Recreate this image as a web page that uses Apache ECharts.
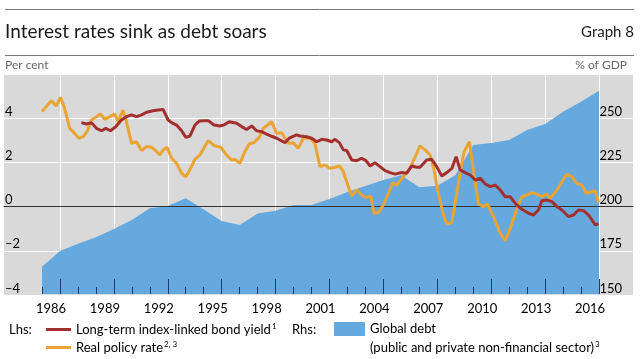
<!DOCTYPE html>
<html><head><meta charset="utf-8">
<script src="https://cdn.jsdelivr.net/npm/echarts@6/dist/echarts.min.js"></script>
<style>html,body{margin:0;padding:0;background:#fff}#c{width:640px;height:359px}</style>
</head><body><div id="c"></div>
<script>
// ---- data ----
const yearLabels = ['1986','1987','1988','1989','1990','1991','1992','1993','1994','1995','1996','1997','1998','1999','2000','2001','2002','2003','2004','2005','2006','2007','2008','2009','2010','2011','2012','2013','2014','2015','2016'];
const yearBounds = ['1986','1987','1988','1989','1990','1991','1992','1993','1994','1995','1996','1997','1998','1999','2000','2001','2002','2003','2004','2005','2006','2007','2008','2009','2010','2011','2012','2013','2014','2015','2016','2017'];
const leftTicks = [-4, -2, 0, 2, 4, 6];
const rightTicks = [150, 175, 200, 225, 250, 275];

const debtYears = [1986,1987,1988,1989,1990,1991,1992,1993,1994,1995,1996,1997,1998,1999,2000,2001,2002,2003,2004,2005,2006,2007,2008,2009,2010,2011,2012,2013,2014,2015,2016,2017];
const debtRatio = [165.5,174.4,178.5,182.2,187,192,198.7,200,204.4,198,191.5,189.2,195.8,197.3,200.6,200.5,204,208,211.4,214.8,217.5,210.6,211.5,217.5,234.7,235.8,237.5,243.2,246.6,253.6,259.3,265.5];

const policyYears = [1986.0,1986.52,1986.8,1987.03,1987.26,1987.54,1987.73,1988.06,1988.28,1988.51,1988.75,1989.03,1989.25,1989.49,1989.77,1990.05,1990.23,1990.51,1990.7,1990.98,1991.26,1991.54,1991.82,1992.09,1992.28,1992.56,1992.74,1992.96,1993.21,1993.49,1993.77,1994.01,1994.23,1994.51,1994.79,1995.06,1995.25,1995.57,1995.96,1996.27,1996.55,1996.74,1997.01,1997.29,1997.53,1997.79,1998.09,1998.31,1998.78,1999.06,1999.34,1999.7,1999.98,2000.26,2000.54,2000.91,2001.19,2001.47,2001.75,2002.03,2002.31,2002.55,2002.77,2003.05,2003.24,2003.5,2003.79,2004.07,2004.3,2004.48,2004.72,2005.0,2005.28,2005.52,2005.74,2006.11,2006.48,2007.04,2007.32,2007.6,2007.82,2008.06,2008.34,2008.53,2008.81,2008.99,2009.27,2009.49,2009.79,2010.01,2010.29,2010.57,2010.79,2011.13,2011.5,2011.78,2012.06,2012.43,2012.71,2012.99,2013.26,2013.5,2013.82,2014.06,2014.28,2014.66,2014.94,2015.21,2015.49,2015.77,2016.05,2016.29,2016.61,2016.79,2016.98];
const policyRate = [4.29,4.79,4.55,4.94,4.44,3.53,3.38,3.08,3.15,3.38,3.91,4.06,4.18,3.94,4.06,4.18,3.83,4.36,3.83,2.85,2.92,2.52,2.7,2.67,2.55,2.32,2.55,2.67,2.17,1.94,1.49,1.33,1.64,2.12,2.32,2.7,2.97,2.75,2.66,2.32,2.09,2.12,1.94,2.47,2.82,2.88,3.12,3.53,3.83,3.3,3.33,2.85,2.88,2.62,3.08,3.08,2.85,1.79,1.86,1.71,1.76,1.82,1.56,0.88,0.46,0.73,0.5,0.38,0.45,-0.33,-0.3,0.05,0.58,1.06,0.95,1.33,1.71,2.73,2.55,2.32,1.64,0.58,-0.41,-0.82,-0.74,0.12,1.49,2.47,2.92,1.64,0.09,-0.03,0.09,-0.48,-1.24,-1.58,-1.02,-0.11,0.42,0.5,0.61,0.55,0.42,0.55,0.35,0.73,1.1,1.45,1.33,1.03,0.95,0.58,0.65,0.7,0.15];

const bondYears = [1988.19,1988.47,1988.75,1989.03,1989.31,1989.55,1989.81,1990.11,1990.42,1990.7,1990.98,1991.26,1991.54,1991.82,1992.18,1992.46,1992.74,1993.02,1993.21,1993.49,1993.77,1994.01,1994.23,1994.51,1994.75,1994.97,1995.25,1995.57,1995.9,1996.12,1996.42,1996.83,1997.11,1997.39,1997.67,1997.94,1998.22,1998.5,1998.78,1999.06,1999.52,1999.76,2000.17,2000.36,2000.73,2001.01,2001.29,2001.57,2001.84,2002.12,2002.31,2002.55,2002.77,2002.96,2003.24,2003.52,2003.79,2004.03,2004.26,2004.53,2004.81,2005.09,2005.37,2005.65,2006.02,2006.3,2006.58,2006.86,2007.04,2007.41,2007.69,2007.97,2008.25,2008.53,2008.81,2009.05,2009.27,2009.55,2009.83,2010.11,2010.39,2010.67,2010.95,2011.23,2011.5,2011.78,2012.06,2012.34,2012.71,2013.08,2013.35,2013.63,2013.82,2014.1,2014.38,2014.66,2014.94,2015.3,2015.58,2015.86,2016.14,2016.42,2016.79,2016.98];
const bondYield = [3.79,3.73,3.79,3.53,3.42,3.53,3.42,3.61,3.91,4.06,4.14,4.06,4.14,4.26,4.33,4.36,4.39,3.91,3.79,3.68,3.42,3.12,3.18,3.68,3.86,3.88,3.88,3.68,3.64,3.68,3.83,3.76,3.61,3.48,3.64,3.42,3.38,3.27,3.17,3.08,2.88,3.08,3.23,3.18,3.15,3.08,2.92,3.03,3.0,2.92,3.03,2.88,2.55,2.52,2.09,2.06,2.17,2.06,1.82,1.97,1.79,1.61,1.52,1.45,1.52,1.49,1.82,1.76,1.76,2.09,2.12,1.79,1.36,1.52,1.71,2.24,1.64,1.52,1.41,1.18,1.26,1.0,0.88,0.95,0.73,0.42,0.42,0.12,-0.15,-0.33,-0.41,-0.18,0.24,0.27,0.2,-0.03,-0.18,-0.48,-0.41,-0.18,-0.21,-0.41,-0.86,-0.8];

// ---- chart ----
const FONT = 'Lato';
const zip = (xs, ys) => xs.map((x, i) => [x, ys[i]]);
const longTick = (i) => (i - 1) % 3 === 0;
const NAME_BOND = 'Long-term index-linked bond yield';
const NAME_POLICY = 'Real policy rate';
const NAME_DEBT = 'Global debt';
const rich = {
  t: {fontSize: 13, lineHeight: 15, color: '#000', fontFamily: FONT},
  s: {fontSize: 8, lineHeight: 8, verticalAlign: 'top', color: '#000', fontFamily: FONT, padding: [0, 0, 0, 1]}
};
const legendText = {fontSize: 13, color: '#000', fontFamily: FONT, rich: rich};
const chart = echarts.init(document.getElementById('c'), null, {renderer: 'canvas'});
const catAxisBase = {gridIndex: 0, type: 'category', position: 'bottom', offset: 0,
  axisLine: {show: false}, axisLabel: {show: false}, axisTick: {show: false}, splitLine: {show: false}};
chart.setOption({
  animation: false,
  textStyle: {fontFamily: FONT},
  grid: [
    {left: 42, right: 41, top: 74, bottom: 65, show: false},
    {left: 4, right: 7, top: 74, bottom: 64, show: true, backgroundColor: '#d9d9d9', borderWidth: 0, z: 0}
  ],
  xAxis: [
    {gridIndex: 0, type: 'value', min: 1986, max: 2017, show: false},
    Object.assign({}, catAxisBase, {data: yearLabels, boundaryGap: true,
      axisLabel: {show: true, interval: 2, margin: 8, color: '#000', fontSize: 13, fontFamily: FONT}}),
    Object.assign({}, catAxisBase, {data: yearBounds, boundaryGap: false, z: 6,
      axisTick: {show: true, inside: true, length: 7, interval: 0, lineStyle: {color: '#1d3c6e', width: 1}}}),
    Object.assign({}, catAxisBase, {data: yearBounds, boundaryGap: false, z: 6,
      axisTick: {show: true, inside: true, length: 15, interval: longTick, lineStyle: {color: '#1d3c6e', width: 1}}}),
    Object.assign({}, catAxisBase, {data: yearBounds, boundaryGap: false, z: 1,
      splitLine: {show: true, interval: longTick, lineStyle: {color: '#ffffff', width: 1}}}),
    {gridIndex: 1, type: 'value', min: 0, max: 1, z: 3,
      axisLine: {show: true, onZero: true, lineStyle: {color: '#333', width: 1}},
      axisTick: {show: false}, axisLabel: {show: false}, splitLine: {show: false}}
  ],
  yAxis: [
    {gridIndex: 0, type: 'value', min: leftTicks[0], max: leftTicks[leftTicks.length - 1], interval: 2, show: false},
    {gridIndex: 0, type: 'value', min: rightTicks[0], max: rightTicks[rightTicks.length - 1], interval: 25, show: false},
    {gridIndex: 1, type: 'value', position: 'left', min: leftTicks[0], max: leftTicks[leftTicks.length - 1], interval: 2, z: 1,
      axisLine: {show: false}, axisTick: {show: false},
      splitLine: {show: true, lineStyle: {color: '#ffffff', width: 1}},
      axisLabel: {inside: true, margin: 1, showMaxLabel: false, showMinLabel: true, verticalAlign: 'bottom', color: '#000', fontSize: 13, fontFamily: FONT,
        formatter: v => String(v).replace('-', '\u2013')}},
    {gridIndex: 1, type: 'value', position: 'right', min: rightTicks[0], max: rightTicks[rightTicks.length - 1], interval: 25, z: 1,
      axisLine: {show: false}, axisTick: {show: false}, splitLine: {show: false},
      axisLabel: {inside: true, margin: 11, showMaxLabel: false, verticalAlign: 'bottom', color: '#000', fontSize: 13, fontFamily: FONT}}
  ],
  legend: [
    {left: 46, top: 322, itemWidth: 25, itemHeight: 3, icon: 'rect', padding: 0,
      data: [NAME_BOND], selectedMode: false, textStyle: legendText,
      formatter: n => '{t|' + n + '}{s|1}'},
    {left: 46, top: 340, itemWidth: 25, itemHeight: 3, icon: 'rect', padding: 0,
      data: [NAME_POLICY], selectedMode: false, textStyle: legendText,
      formatter: n => '{t|' + n + '}{s|2, 3}'},
    {left: 334, top: 322, itemWidth: 31, itemHeight: 14, icon: 'rect', padding: 0,
      data: [NAME_DEBT], selectedMode: false, textStyle: legendText,
      formatter: n => '{t|' + n + '}'}
  ],
  graphic: [
    {type: 'line', shape: {x1: 5, y1: 9.5, x2: 634, y2: 9.5}, style: {stroke: '#777', lineWidth: 1}, silent: true},
    {type: 'line', shape: {x1: 5, y1: 55.5, x2: 634, y2: 55.5}, style: {stroke: '#777', lineWidth: 1}, silent: true},
    {type: 'text', left: 5, top: 22, style: {text: 'Interest rates sink as debt soars', fontSize: 19, fontFamily: FONT, fill: '#1a1a1a'}},
    {type: 'text', right: 6, top: 25, style: {text: 'Graph 8', fontSize: 15, fontFamily: FONT, fill: '#1a1a1a'}},
    {type: 'text', left: 5, top: 59, style: {text: 'Per cent', fontSize: 12, fontFamily: FONT, fill: '#666'}},
    {type: 'text', right: 13, top: 59, style: {text: '% of GDP', fontSize: 12, fontFamily: FONT, fill: '#666'}},
    {type: 'text', left: 9, top: 323, style: {text: 'Lhs:', fontSize: 13, fontFamily: FONT, fill: '#000'}},
    {type: 'text', left: 292, top: 323, style: {text: 'Rhs:', fontSize: 13, fontFamily: FONT, fill: '#000'}},
    {type: 'text', left: 370, top: 340, style: {text: '{t|(public and private non-financial sector)}{s|3}', rich: rich, fontFamily: FONT}}
  ],
  series: [
    {name: NAME_DEBT, type: 'line', xAxisIndex: 0, yAxisIndex: 1, data: zip(debtYears, debtRatio), z: 2,
      symbol: 'none', color: '#66a9df', lineStyle: {width: 0}, areaStyle: {color: '#66a9df', opacity: 1, origin: 'start'}},
    {name: NAME_POLICY, type: 'line', xAxisIndex: 0, yAxisIndex: 0, data: zip(policyYears, policyRate), z: 4,
      symbol: 'none', color: '#e9a434', lineStyle: {width: 3, color: '#e9a434'}},
    {name: NAME_BOND, type: 'line', xAxisIndex: 0, yAxisIndex: 0, data: zip(bondYears, bondYield), z: 4,
      symbol: 'none', color: '#a3302f', lineStyle: {width: 3, color: '#a3302f'}}
  ]
});
</script></body></html>
